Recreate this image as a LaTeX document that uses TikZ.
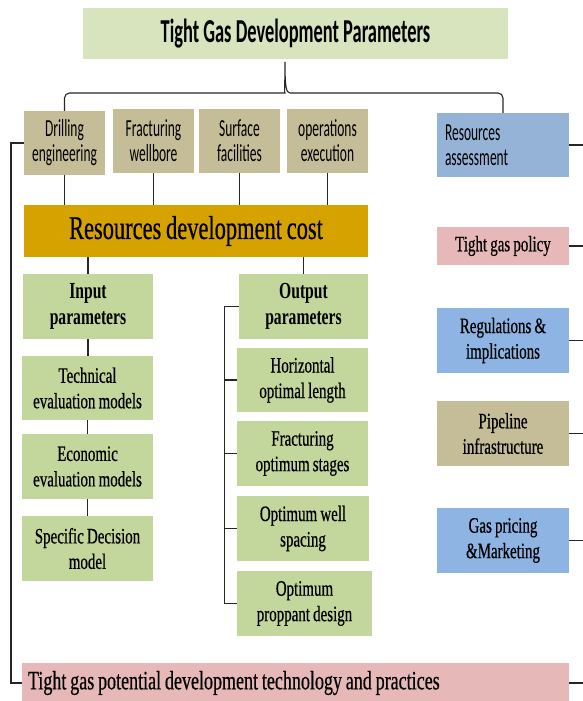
\documentclass[tikz,border=0pt]{standalone}
\usepackage{fontspec}
\setmainfont{Liberation Serif}[FakeStretch=0.68, WordSpace=0.85, UprightFeatures={FakeBold=0.5}]
\setsansfont{Carlito}[FakeStretch=0.55]
\definecolor{cTtl}{HTML}{D7E4BD}
\definecolor{cTan}{HTML}{C4BD97}
\definecolor{cGold}{HTML}{D6A200}
\definecolor{cGrn}{HTML}{C3D69B}
\definecolor{cBlu}{HTML}{95B3D7}
\definecolor{cBlu2}{HTML}{8DB4E2}
\definecolor{cPnk}{HTML}{E6B9B8}

\begin{document}
\begin{tikzpicture}[x=1pt, y=-1pt,
    bx/.style={inner sep=0pt, align=center},
    tanbx/.style={bx, fill=cTan, minimum width=81, minimum height=64, font=\sffamily\fontsize{24.5}{25}\selectfont},
    grnbx/.style={bx, fill=cGrn, minimum width=131, minimum height=65, font=\fontsize{22}{25.5}\selectfont},
    hdbx/.style={grnbx, font=\bfseries\fontsize{23}{25.5}\selectfont},
    rgtbx/.style={bx, minimum width=132, minimum height=65, font=\fontsize{22}{25.5}\selectfont},
    con/.style={line width=1.1pt, black!85}]
    \useasboundingbox (0,0) rectangle (583,701);
    \clip (0,0) rectangle (583,701);
    \coordinate (lft) at (11,0);
    \coordinate (rgt) at (590,0);
    \coordinate (brk) at (224.5,0);
    \coordinate (tip) at (285,62);
    \node[bx, fill=cTtl, minimum width=425, minimum height=51, font=\sffamily\bfseries\fontsize{33.5}{36}\selectfont] (tgdp) at (295.5,33.5) {Tight Gas Development Parameters};
    \node[tanbx] (drl) at (64.5,143) {Drilling\\engineering};
    \node[tanbx] (frc) at (153.5,141) {Fracturing\\wellbore};
    \node[tanbx] (srf) at (239.5,141) {Surface\\facilities};
    \node[tanbx] (ops) at (327.5,141) {operations\\execution};
    \node[bx, fill=cBlu, text width=116, inner xsep=8pt, align=flush left, minimum height=64, font=\sffamily\fontsize{24.5}{25}\selectfont] (ra) at (503,145) {Resources\\assessment};
    \node[bx, fill=cGold, minimum width=344, minimum height=52, font=\fontsize{33}{34}\selectfont] (rdc) at (196,231) {Resources development cost};
    \node[rgtbx, fill=cPnk, minimum height=38] (tgp) at (503,246) {Tight gas policy};
    \node[hdbx, minimum width=130] (inp) at (88,306.5) {Input\\parameters};
    \node[hdbx, minimum width=129] (outp) at (303.5,306.5) {Output\\parameters};
    \node[grnbx, minimum height=64] (tem) at (87.5,388) {Technical\\evaluation models};
    \node[grnbx] (eem) at (87.5,466.5) {Economic\\evaluation models};
    \node[grnbx] (sdm) at (87.5,548.5) {Specific Decision\\model};
    \node[grnbx, minimum height=64] (hol) at (302.5,380) {Horizontal\\optimal length};
    \node[grnbx] (fos) at (302.5,453.5) {Fracturing\\optimum stages};
    \node[grnbx, minimum width=132] (ows) at (303,528.5) {Optimum well\\spacing};
    \node[grnbx, minimum width=135] (opd) at (304.5,603.5) {Optimum\\proppant design};
    \node[rgtbx, fill=cBlu2] (ri) at (503,340.5) {Regulations \&\\implications};
    \node[rgtbx, fill=cTan] (pi) at (503,433.5) {Pipeline\\infrastructure};
    \node[rgtbx, fill=cBlu2] (gpm) at (503,540.5) {Gas pricing\\\&Marketing};
    \node[bx, fill=cPnk, text width=535, inner xsep=6pt, align=flush left, minimum height=40, font=\fontsize{26.5}{28}\selectfont] (tgpd) at (295.5,683) {Tight gas potential development technology and practices};
    \draw[con, rounded corners=5] (drl.north) |- (280,93) [sharp corners] .. controls (284,93) and (285,86) .. (tip) .. controls (285,86) and (286,93) .. (290,93) [rounded corners=5] -| (ra.north);
    \foreach \n in {drl,frc,srf,ops} \draw[con] (\n.south) -- (\n.south |- rdc.north);
    \draw[con] (rdc.south -| inp.north) -- (inp.north);
    \draw[con] (rdc.south -| outp.north) -- (outp.north);
    \draw[con] (inp.south) -- (inp.south |- tem.north);
    \draw[con] (tem.south) -- (tem.south |- eem.north);
    \draw[con] (eem.south) -- (eem.south |- sdm.north);
    \draw[con] (drl.west) -- (drl.west -| lft) |- (tgpd.west);
    \draw[con] (outp.west) -- (outp.west -| brk) |- (opd.west);
    \foreach \n in {hol,fos,ows} \draw[con] (\n.west -| brk) -- (\n.west);
    \foreach \n in {ra,tgp,ri,pi,gpm,tgpd} \draw[con] (\n.east) -- (\n.east -| rgt);
\end{tikzpicture}
\end{document}
